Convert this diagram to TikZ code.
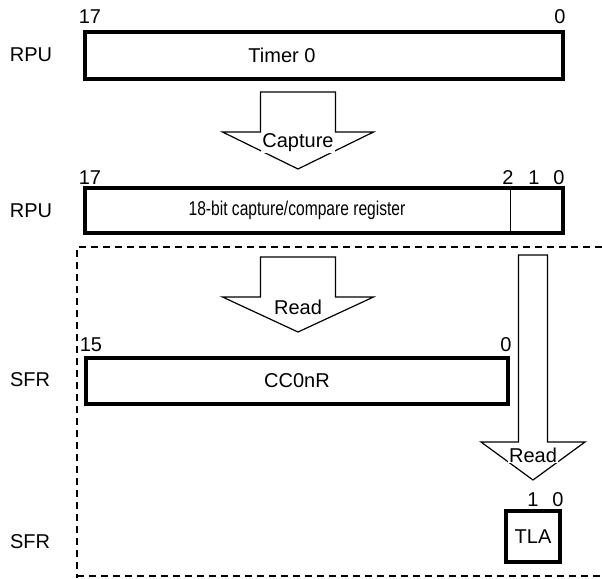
\documentclass[tikz,border=0pt]{standalone}
\usepackage{fontspec}
\setmainfont{Liberation Sans}
\usetikzlibrary{positioning}
\tikzstyle{reg} = [draw, line width=3.4pt, inner sep=0pt]
\tikzstyle{bitno} = [inner sep=1pt]
\tikzstyle{blockarrow} = [draw, line width=1.2pt, line join=miter, fill=white]
\tikzstyle{arrowtext} = [fill=white, inner sep=1pt]
\tikzstyle{frame} = [line width=1.2pt, dash pattern=on 7pt off 5pt]
% #1 x, #2 top, #3 head, #4 tip, #5 shaft half width, #6 wing half width
\newcommand{\blockarrow}[6]{%
  \draw[blockarrow] (#1-#5,#2) -- (#1+#5,#2) -- (#1+#5,#3) -- (#1+#6,#3)
    -- (#1,#4) -- (#1-#6,#3) -- (#1-#5,#3) -- cycle;}

\begin{document}
\begin{tikzpicture}[x=1pt, y=-1pt, font=\fontsize{20}{24}\selectfont]
    \useasboundingbox (0,0) rectangle (602,578);

    % Dashed SFR frame
    \draw[frame] (602,247) -- (77,247) -- (77,578);
    \draw[frame] (77,576) -- (602,576);

    % Register labels
    \node (rpua) at (31,55) {RPU};
    \node (rpub) at (31,211) {RPU};
    \node (sfra) at (30,380) {SFR};
    \node (sfrb) at (30,542) {SFR};

    % Timer 0
    \node[reg, minimum width=478pt, minimum height=47pt] (timer) at (324,55.5) {};
    \node (timertxt) at ([xshift=-42pt]timer.center) {Timer 0};
    \node[bitno] (timer17) at (90,17) {17};
    \node[bitno] (timer0) at (560,17) {0};

    % Capture
    \blockarrow{298}{92}{132}{169}{37.5}{75.5}
    \node[arrowtext] (capture) at (298,143) {Capture};

    % 18-bit capture/compare register
    \node[reg, minimum width=478pt, minimum height=45pt] (ccr) at (324,210.5) {};
    \node (ccrtxt) at ([xshift=-27pt]ccr.center)
      {\scalebox{0.78}[1]{18-bit capture/compare register}};
    \draw[line width=0.8pt] ([xshift=-54pt]ccr.north east) -- ([xshift=-54pt]ccr.south east);
    \node[bitno] (ccr17) at (90,178) {17};
    \node[bitno] (ccr2) at (508,178) {2};
    \node[bitno] (ccr1) at (534,178) {1};
    \node[bitno] (ccr0) at (559,178) {0};

    % Read into CC0nR
    \blockarrow{298}{257}{297}{332}{37.5}{75.5}
    \node[arrowtext] (reada) at (298,307) {Read};

    % CC0nR
    \node[reg, minimum width=422pt, minimum height=46pt] (cc0nr) at (297,381) {CC0nR};
    \node[bitno] (cc15) at (91,345) {15};
    \node[bitno] (cc0) at (506,345) {0};

    % Read into TLA
    \blockarrow{533}{255}{442}{480}{14.5}{52}
    \node[arrowtext] (readb) at (533,455) {Read};

    % TLA
    \node[reg, minimum width=54pt, minimum height=51pt] (tla) at (533,536.5) {TLA};
    \node[bitno] (tla1) at (533,500) {1};
    \node[bitno] (tla0) at (558,500) {0};
\end{tikzpicture}
\end{document}
